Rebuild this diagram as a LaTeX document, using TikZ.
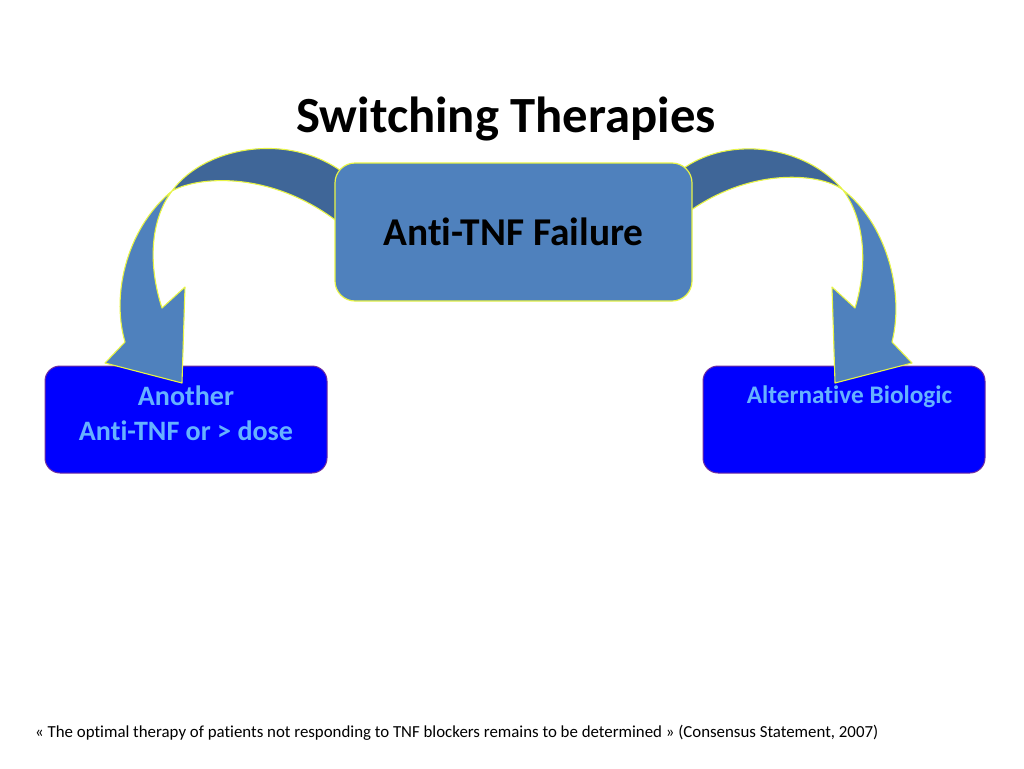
\documentclass[tikz,border=0pt]{standalone}
\usepackage{fontspec}
\setmainfont{Carlito}[Ligatures=NoCommon]
\usetikzlibrary{backgrounds}

\definecolor{accent}{RGB}{79,129,189}
\definecolor{accentdark}{RGB}{63,102,152}
\definecolor{optblue}{RGB}{0,0,255}
\definecolor{optedge}{RGB}{112,48,160}
\definecolor{opttext}{RGB}{102,178,255}
\definecolor{rim}{RGB}{232,244,70}

\begin{document}
\begin{tikzpicture}[x=1pt,y=-1pt,inner sep=0pt,
  failbox/.style={draw=rim,line width=1.2pt,fill=accent,rounded corners=20pt,
    minimum width=357pt,minimum height=138pt},
  optbox/.style={draw=optedge,line width=1pt,fill=optblue,rounded corners=15pt,
    minimum width=282pt,minimum height=107pt,text=opttext},
  band/.style={draw=rim,line width=1.1pt,line join=round}]
\useasboundingbox (0,0) rectangle (1024,768);
\node[font=\bfseries\fontsize{50.7}{60}\selectfont,anchor=base] (title) at (506,132) {Switching Therapies};
%
\node[optbox,align=center,text depth=12pt,font=\bfseries\fontsize{28.1}{35}\selectfont] (another) at (186,419.5) {Another\\Anti-TNF or > dose};
\node[optbox,text height=20pt,text depth=53pt,font=\bfseries\fontsize{25.3}{30}\selectfont] (altbio) at (844,419.5) {\hspace*{11pt}Alternative Biologic};
%
\coordinate (twistL) at (172,191);
\coordinate (tipL) at (182,383);
\coordinate (twistR) at (843,190);
\coordinate (tipR) at (835,383);
%% back of the curved arrows
\draw[band,fill=accentdark] (twistL) .. controls (205,145) and (295,130) .. (350,178) -- (350,232)
  .. controls (280,170) and (200,175) .. (twistL) -- cycle;
\draw[band,fill=accentdark] (twistR) .. controls (800,140) and (715,135) .. (672,178) -- (672,225)
  .. controls (740,165) and (820,172) .. (twistR) -- cycle;
%% front of the curved arrows
\draw[band,fill=accent] (twistL) .. controls (130,225) and (110,290) .. (125,342) -- (105,363) -- (tipL)
  -- (185,287) -- (162,308) .. controls (148,265) and (150,220) .. (twistL) -- cycle;
\draw[band,fill=accent] (twistR) .. controls (885,222) and (905,290) .. (892,342) -- (912,363) -- (tipR)
  -- (832,287) -- (855,308) .. controls (868,265) and (865,220) .. (twistR) -- cycle;
%
\node[failbox,font=\bfseries\fontsize{39.4}{46}\selectfont] (fail) at (513.5,232) {Anti-TNF Failure};
%
\node[font=\fontsize{16.85}{20}\selectfont,anchor=base west] (quote) at (35,737) {« The optimal therapy of patients not responding to TNF blockers remains to be determined » (Consensus Statement, 2007)};
\end{tikzpicture}
\end{document}
